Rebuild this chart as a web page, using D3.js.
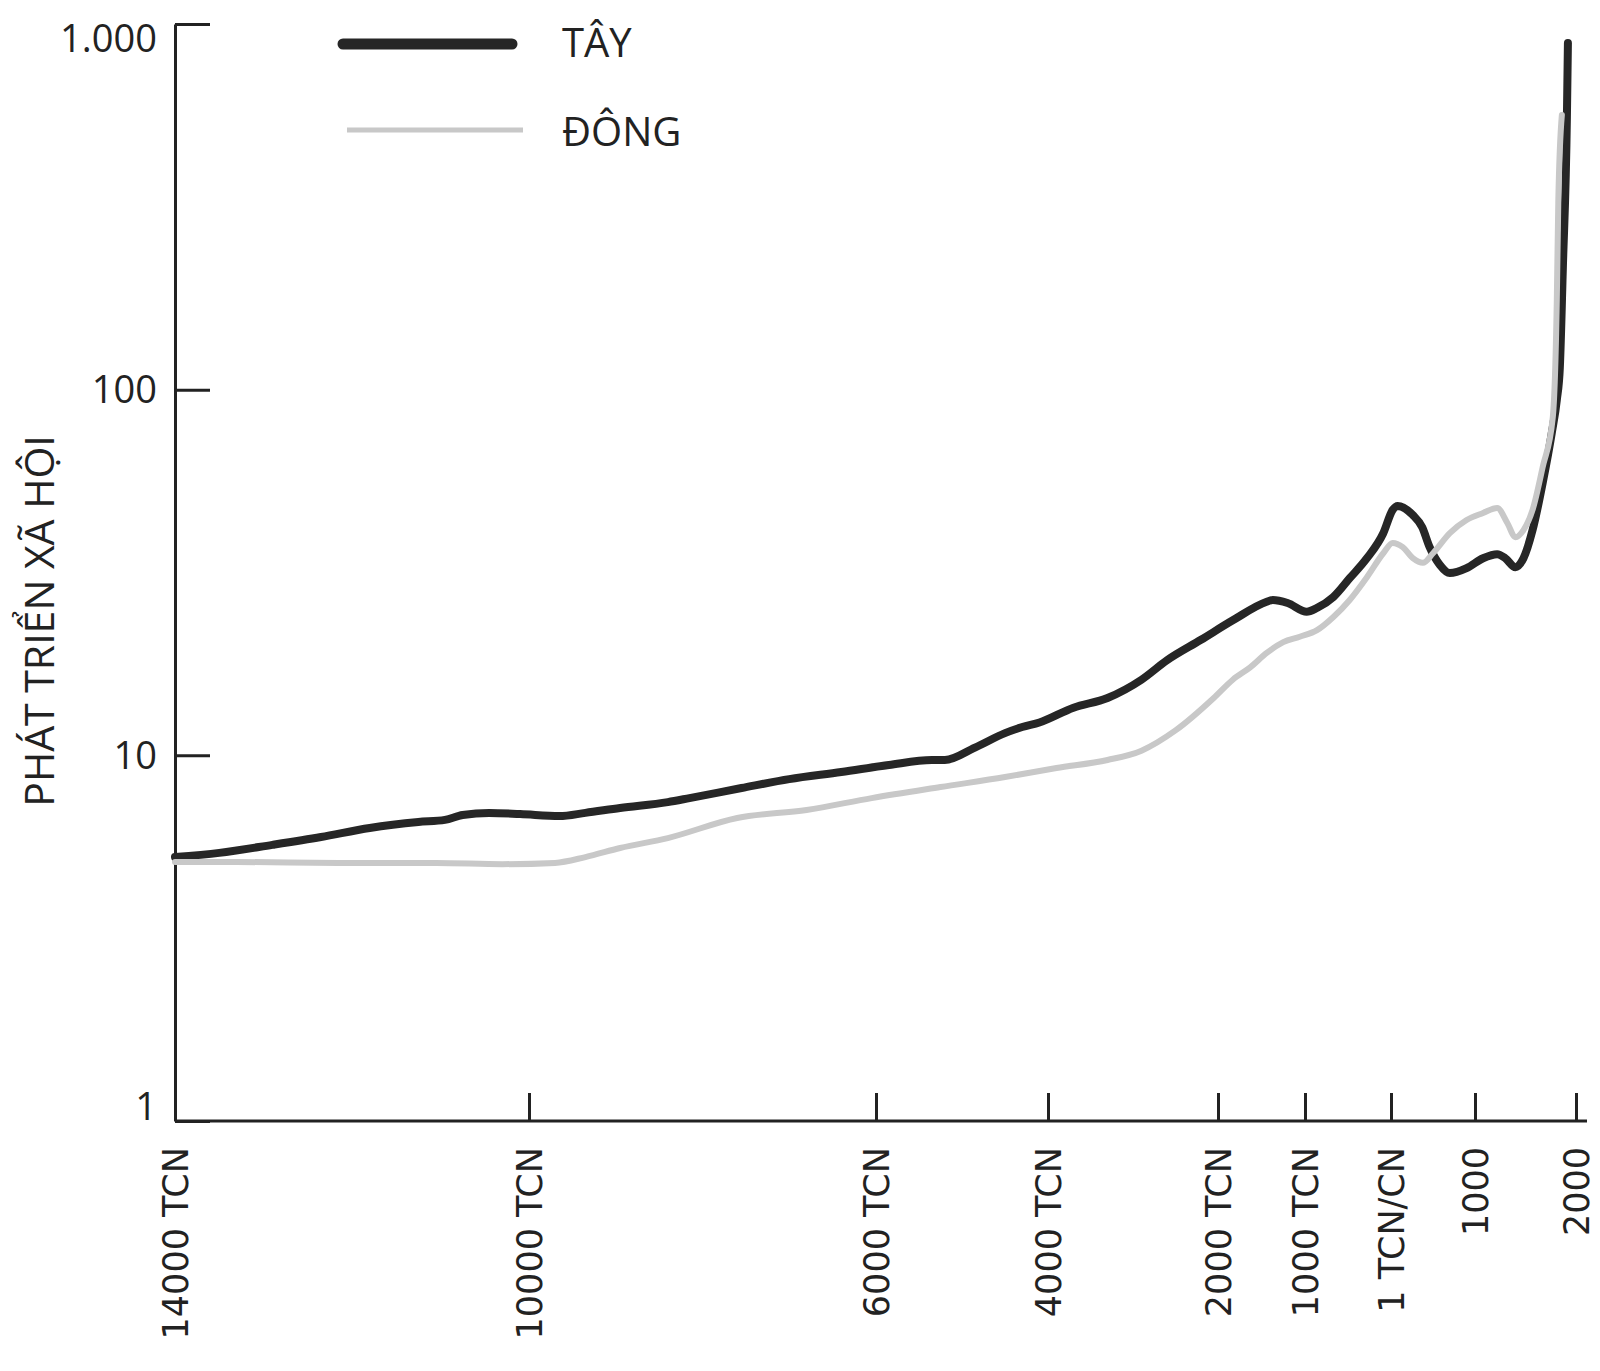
<!DOCTYPE html>
<html>
<head>
<meta charset="utf-8">
<script src="https://cdn.jsdelivr.net/npm/d3@7"></script>
<style>
    body { margin: 0; background: #fff; }
    svg { display: block; }
</style>
</head>
<body>
<div id="chart"></div>
<script>
// x ticks (years, negative = TCN)
const xTickYears = [-14000, -10000, -6000, -4000, -2000, -1000, 0, 1000, 2000];
const xTickLabels = ["14000 TCN", "10000 TCN", "6000 TCN", "4000 TCN", "2000 TCN", "1000 TCN", "1 TCN/CN", "1000", "2000"];

const yTicks = [1, 10, 100, 1000];
const yTickLabels = ["1", "10", "100", "1.000"];

const seriesNames = ["TÂY", "ĐÔNG"];

// Tây (West)
const tayYears = [-14000, -13500, -12900, -12350, -11800, -11250, -10950, -10750, -10450, -10100,
    -9650, -9350, -8950, -8400, -8150, -7550, -7000, -6400, -5850, -5350,
    -5200, -4850, -4500, -4300, -4100, -3700, -3300, -2900, -2600, -2200,
    -1830, -1440, -1370, -1200, -980, -860, -670, -480, -280, -90,
    20, 80, 260, 370, 460, 580, 700, 900, 1080, 1220,
    1300, 1400, 1480, 1570, 1670, 1760, 1810, 1840, 1870, 1910, 1920];
const tayValues = [5.27, 5.41, 5.69, 5.98, 6.33, 6.57, 6.66, 6.87, 6.96, 6.91,
    6.82, 6.96, 7.18, 7.45, 7.64, 8.14, 8.61, 9.0, 9.41, 9.71,
    9.71, 10.5, 11.5, 11.95, 12.3, 13.5, 14.35, 16.1, 18.2, 20.7,
    23.4, 26.3, 26.6, 26.1, 24.7, 25.3, 27.1, 30.5, 34.6, 40.5,
    46.9, 48.1, 45.4, 42.1, 37.1, 33.2, 31.5, 32.5, 34.6, 35.5,
    34.6, 32.7, 34.6, 41.3, 55.6, 76.1, 93.7, 115, 216, 557, 887];

// Đông (East)
const dongYears = [-14000, -13300, -12150, -11050, -10300, -9700, -9350, -8950, -8400, -7600,
    -6800, -6050, -5250, -4500, -3900, -3300, -2900, -2500, -2050, -1830,
    -1630, -1440, -1250, -1060, -860, -670, -480, -280, -90, 20,
    140, 260, 380, 500, 700, 900, 1080, 1220, 1320, 1400,
    1480, 1570, 1670, 1770, 1810, 1825, 1860];
const dongValues = [5.11, 5.11, 5.08, 5.08, 5.04, 5.08, 5.27, 5.58, 5.94, 6.74,
    7.09, 7.64, 8.19, 8.72, 9.23, 9.71, 10.3, 11.7, 14.35, 16.1,
    17.4, 19.05, 20.4, 21.1, 22.0, 23.9, 26.6, 30.7, 35.7, 38.1,
    37.1, 34.6, 33.6, 35.7, 40.5, 44.0, 46.0, 47.5, 43.2, 39.5,
    41.3, 46.9, 61.4, 84, 176, 330, 564];

let margin = {top: 24, right: 24, bottom: 250, left: 175},
    totalWidth = 1600,
    totalHeight = 1371,
    height = totalHeight - margin.top - margin.bottom;

// the time axis in the original is not quite even, so map tick to tick
const xStops = [0, 354, 701, 873, 1043, 1130, 1216, 1300, 1401];

let xScale = d3.scaleLinear().domain(xTickYears).range(xStops),
    yScale = d3.scaleLog().domain([1, 1000]).range([height, 0]);

const ink = "#222";

let svg = d3.select("#chart")
    .append("svg")
    .attr("width", totalWidth)
    .attr("height", totalHeight);

let g = svg.append("g")
    .attr("transform", "translate(" + margin.left + "," + margin.top + ")");

// y axis
let yAxis = d3.axisLeft(yScale)
    .tickValues(yTicks)
    .tickFormat(function (d, i) { return yTickLabels[i]; })
    .tickSizeInner(-35)
    .tickSizeOuter(0)
    .tickPadding(18);

let yG = g.append("g").attr("class", "y axis").call(yAxis);
yG.select(".domain").attr("stroke", ink).attr("stroke-width", 3);
yG.selectAll(".tick line").attr("stroke", ink).attr("stroke-width", 3);
yG.selectAll(".tick text")
    .attr("fill", ink)
    .style("font-family", "'Open Sans', sans-serif")
    .style("font-size", "38px")
    .attr("dy", function (d) {
        if (d === 1000) return "0.72em";
        if (d === 1) return "-0.05em";
        return "0.34em";
    });

// x axis
let xAxis = d3.axisBottom(xScale)
    .tickValues(xTickYears)
    .tickFormat(function (d, i) { return xTickLabels[i]; })
    .tickSizeInner(-28)
    .tickSizeOuter(0);

let xG = g.append("g")
    .attr("class", "x axis")
    .attr("transform", "translate(0," + height + ")")
    .call(xAxis);
xG.select(".domain")
    .attr("d", "M0,0H" + (xScale.range()[xStops.length - 1] + 11))
    .attr("stroke", ink).attr("stroke-width", 3);
xG.selectAll(".tick line").attr("stroke", ink).attr("stroke-width", 3);
xG.selectAll(".tick text")
    .attr("fill", ink)
    .style("font-family", "'DejaVu Sans', sans-serif")
    .style("font-size", "35px")
    .style("text-anchor", "end")
    .attr("transform", "rotate(-90)")
    .attr("x", -26)
    .attr("y", 0)
    .attr("dy", "0.36em");

// y title
svg.append("text")
    .attr("transform", "translate(40," + (margin.top + 597) + ") rotate(-90)")
    .attr("text-anchor", "middle")
    .attr("dy", "0.35em")
    .attr("fill", ink)
    .style("font-family", "'Open Sans', sans-serif")
    .style("font-size", "41px")
    .text("PHÁT TRIỂN XÃ HỘI");

// lines
let line = d3.line()
    .x(function (d) { return xScale(d[0]); })
    .y(function (d) { return yScale(d[1]); })
    .curve(d3.curveMonotoneX);

let tayData = tayYears.map(function (d, i) { return [d, tayValues[i]]; });
let dongData = dongYears.map(function (d, i) { return [d, dongValues[i]]; });

g.append("path")
    .datum(tayData)
    .attr("fill", "none")
    .attr("stroke", "#262626")
    .attr("stroke-width", 8)
    .attr("stroke-linejoin", "round")
    .attr("stroke-linecap", "round")
    .attr("d", line);

g.append("path")
    .datum(dongData)
    .attr("fill", "none")
    .attr("stroke", "#c8c8c8")
    .attr("stroke-width", 6)
    .attr("stroke-linejoin", "round")
    .attr("stroke-linecap", "round")
    .attr("d", line);

// legend
let legend = svg.append("g").attr("class", "legend");

legend.append("line")
    .attr("x1", 343).attr("x2", 512)
    .attr("y1", 44).attr("y2", 44)
    .attr("stroke", "#262626")
    .attr("stroke-width", 11)
    .attr("stroke-linecap", "round");

legend.append("line")
    .attr("x1", 347).attr("x2", 523)
    .attr("y1", 130).attr("y2", 130)
    .attr("stroke", "#c8c8c8")
    .attr("stroke-width", 5);

legend.selectAll(".legendText")
    .data(seriesNames)
    .enter().append("text")
    .attr("class", "legendText")
    .attr("x", 562)
    .attr("y", function (d, i) { return i === 0 ? 57 : 146; })
    .attr("fill", ink)
    .style("font-family", "'Open Sans', sans-serif")
    .style("font-size", "40px")
    .text(function (d) { return d; });
</script>
</body>
</html>
